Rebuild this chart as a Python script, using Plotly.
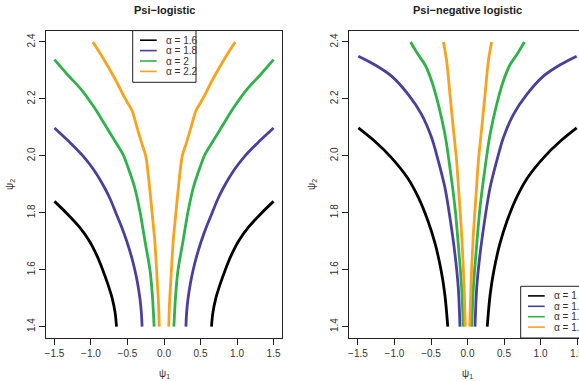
import plotly.graph_objects as go

# ---- data: right-hand branches (psi1 >= 0); curves are symmetric about psi1 = 0 ----
logis_labels = ["α = 1.6", "α = 1.8", "α = 2", "α = 2.2"]
logis_psi1 = [
    [0.65, 0.67, 0.71, 0.77, 0.84, 0.92, 1.02, 1.16, 1.34, 1.50],
    [0.30, 0.31, 0.33, 0.36, 0.40, 0.45, 0.51, 0.58, 0.66, 0.74, 0.84, 0.96, 1.11, 1.30, 1.50],
    [0.135, 0.16, 0.19, 0.26, 0.33, 0.40, 0.49, 0.56, 0.67, 0.81, 0.95, 1.13, 1.32, 1.50],
    [0.065, 0.075, 0.095, 0.126, 0.163, 0.21, 0.25, 0.30, 0.37, 0.44, 0.53, 0.67, 0.85, 0.975],
]
logis_psi2 = [
    [1.40, 1.45, 1.50, 1.55, 1.60, 1.65, 1.70, 1.75, 1.80, 1.84],
    [1.40, 1.45, 1.50, 1.55, 1.60, 1.65, 1.70, 1.75, 1.80, 1.85, 1.90, 1.95, 2.00, 2.05, 2.098],
    [1.40, 1.512, 1.595, 1.70, 1.805, 1.887, 1.957, 2.004, 2.051, 2.11, 2.168, 2.232, 2.285, 2.338],
    [1.40, 1.48, 1.57, 1.70, 1.80, 1.92, 2.00, 2.04, 2.10, 2.16, 2.20, 2.27, 2.35, 2.40],
]

neglog_labels = ["α = 1", "α = 1.2", "α = 1.4", "α = 1.6"]
neglog_psi1 = [
    [0.27, 0.31, 0.36, 0.44, 0.54, 0.67, 0.82, 1.04, 1.27, 1.495],
    [0.103, 0.126, 0.171, 0.24, 0.308, 0.399, 0.49, 0.628, 0.81, 1.04, 1.27, 1.495],
    [0.058, 0.08, 0.115, 0.171, 0.24, 0.308, 0.399, 0.49, 0.582, 0.674, 0.78],
    [0.03, 0.057, 0.08, 0.117, 0.149, 0.195, 0.24, 0.285, 0.33],
]
neglog_psi2 = [
    [1.40, 1.512, 1.595, 1.688, 1.77, 1.852, 1.922, 1.993, 2.051, 2.098],
    [1.40, 1.536, 1.653, 1.782, 1.887, 1.981, 2.063, 2.145, 2.215, 2.28, 2.32, 2.35],
    [1.40, 1.536, 1.653, 1.817, 1.957, 2.074, 2.18, 2.262, 2.32, 2.355, 2.40],
    [1.40, 1.606, 1.723, 1.864, 1.981, 2.098, 2.215, 2.332, 2.40],
]

x_ticks = [-1.5, -1.0, -0.5, 0.0, 0.5, 1.0, 1.5]
y_ticks = [1.4, 1.6, 1.8, 2.0, 2.2, 2.4]

colors = ["#000000", "#4B3F9E", "#2DB34A", "#F9A21B"]

W, H = 579, 381
FONT = "Liberation Sans, Arial, Helvetica, sans-serif"
AXC = "#222222"
TXT = "#333333"


def fx(p):
    return p / W


def fy(p):
    return 1 - p / H


fig = go.Figure()


def add_curves(psi1_sets, psi2_sets, labels, xa, ya):
    for p1, p2, lab, col in zip(psi1_sets, psi2_sets, labels, colors):
        # left branch is the mirror image of the right one
        for sign in (-1, 1):
            fig.add_trace(go.Scatter(
                x=[sign * v for v in p1], y=list(p2), mode="lines", name=lab,
                showlegend=False, xaxis=xa, yaxis=ya,
                line=dict(color=col, width=2.8, shape="spline", smoothing=0.9),
            ))


add_curves(logis_psi1, logis_psi2, logis_labels, "x", "y")
add_curves(neglog_psi1, neglog_psi2, neglog_labels, "x2", "y2")

y_dom = [fy(338.0), fy(30.6)]

common_x = dict(
    showline=True, linecolor=AXC, linewidth=1, ticks="outside", ticklen=6,
    tickcolor=AXC, tickwidth=1, showgrid=False, zeroline=False,
    tickvals=x_ticks, tickformat=".1f",
    tickfont=dict(family=FONT, size=10, color=TXT),
)
common_y = dict(
    showline=True, linecolor=AXC, linewidth=1, ticks="outside", ticklen=6,
    tickcolor=AXC, tickwidth=1, showgrid=False, zeroline=False,
    tickvals=y_ticks, tickformat=".1f", tickangle=-90, range=[1.36, 2.44],
    tickfont=dict(family=FONT, size=10, color=TXT), domain=y_dom,
)

fig.update_layout(
    width=W, height=H,
    margin=dict(l=0, r=0, t=0, b=0),
    paper_bgcolor="white", plot_bgcolor="white",
    font=dict(family=FONT, color=TXT),
    xaxis=dict(common_x, domain=[fx(45.7), fx(282.3)], range=[-1.62, 1.62],
               mirror=True, anchor="y"),
    yaxis=dict(common_y, mirror=True, anchor="x"),
    xaxis2=dict(common_x, domain=[fx(349.0), 1.0], range=[-1.623, 1.527],
                mirror=True, anchor="y2"),
    yaxis2=dict(common_y, mirror=False, anchor="x2"),
)

# the last tick label of the right panel runs off the page edge
fig.add_annotation(x=x_ticks[-1], xref="x2", y=fy(353), yref="paper",
                   text=f"{x_ticks[-1]:.1f}", showarrow=False, xanchor="center",
                   yanchor="middle", font=dict(family=FONT, size=10, color=TXT))

# panel titles and axis titles
panel_titles = [("Psi\u2212logistic", 164.0), ("Psi\u2212negative logistic", 467.0)]
for txt, cx in panel_titles:
    fig.add_annotation(x=fx(cx), y=fy(10), xref="paper", yref="paper", text=f"<b>{txt}</b>",
                       showarrow=False, xanchor="center", yanchor="middle",
                       font=dict(family=FONT, size=11, color="#222222"))
    fig.add_annotation(x=fx(cx), y=fy(374), xref="paper", yref="paper",
                       text="ψ<sub>1</sub>", showarrow=False, xanchor="center",
                       yanchor="middle", font=dict(family=FONT, size=10, color=TXT))
for cx in (10.0, 312.0):
    fig.add_annotation(x=fx(cx), y=fy(185), xref="paper", yref="paper",
                       text="ψ<sub>2</sub>", showarrow=False, textangle=-90,
                       xanchor="center", yanchor="middle",
                       font=dict(family=FONT, size=10, color=TXT))


def draw_legend(left, top, labels):
    box_h = 51.7
    fig.add_shape(type="rect", xref="paper", yref="paper",
                  x0=fx(left), x1=fx(left + 63.3 if left < 300 else 620),
                  y0=fy(top + box_h), y1=fy(top),
                  line=dict(color=AXC, width=1), fillcolor="white", layer="above")
    for i, (lab, col) in enumerate(zip(labels, colors)):
        yy = top + 9.6 + i * 10.4
        fig.add_shape(type="line", xref="paper", yref="paper",
                      x0=fx(left + 7.3), x1=fx(left + 24.0), y0=fy(yy), y1=fy(yy),
                      line=dict(color=col, width=1.6), layer="above")
        fig.add_annotation(x=fx(left + 31.5), y=fy(yy), xref="paper", yref="paper",
                           text=lab, showarrow=False, xanchor="left", yanchor="middle",
                           font=dict(family=FONT, size=10, color=TXT))


draw_legend(132.7, 30.6, logis_labels)
draw_legend(520.7, 286.3, neglog_labels)

fig.write_html("out.html")
